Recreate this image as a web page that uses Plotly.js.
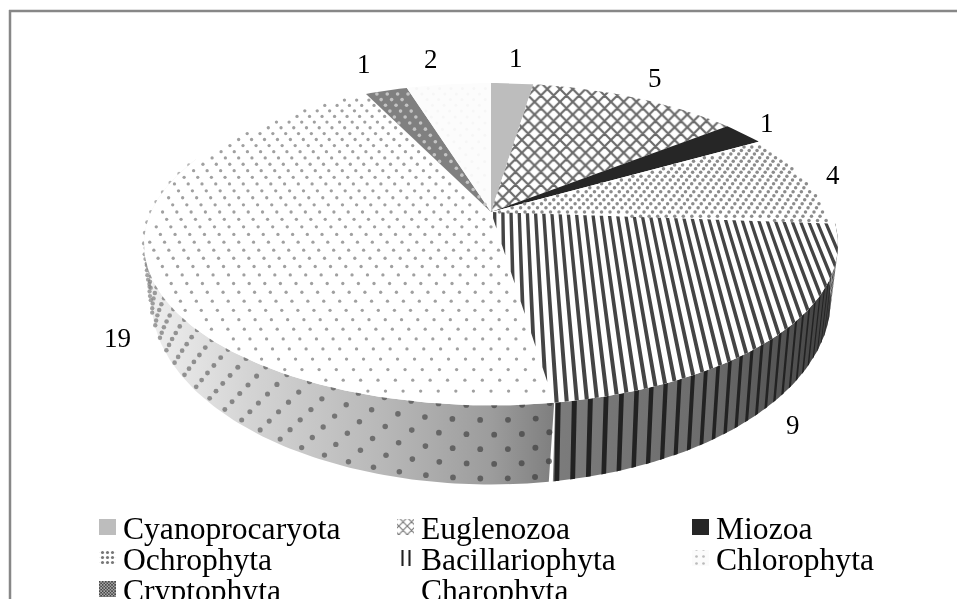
<!DOCTYPE html>
<html><head><meta charset="utf-8">
<script src="https://cdn.plot.ly/plotly-3.0.1.min.js"></script>
<style>html,body{margin:0;padding:0;background:#fff;overflow:hidden}#plot{width:957px;height:599px;filter:blur(0.5px)}</style>
</head><body><div id="plot"></div>
<script>
// DATA
const categories = ["Cyanoprocaryota","Euglenozoa","Miozoa","Ochrophyta","Bacillariophyta","Chlorophyta","Cryptophyta","Charophyta"];
const values = [1,5,1,4,9,19,1,2];
// LABEL AND LEGEND PLACEMENT (pixel-scaled axes)
const labelX = [516,655,767,833,793,117,364,431];
const labelY = [58,78,123,175,425,338,64,59];
const legendX = [122,420,715,122,420,715,122,420];
const legendY = [535,535,535,566,566,566,597,597];
// STYLE
const topColor = ["#bdbdbd","#ffffff","#262626","#ffffff","#ffffff","#ffffff","#808080","#fcfcfc"];

// 3D-pie perspective model
const cx=491, d=0.2;
const top3 = {R:340,H:154.7,cy:212}, bot3 = {R:333,H:178,cy:262};
function proj(X,Z,m){const w=1+d*Z;return [cx+m.R*X/w, m.cy-m.H*Z/w];}
const rad=a=>a*Math.PI/180;
const onRim=(a,m)=>proj(Math.sin(rad(a)),Math.cos(rad(a)),m);
const total=values.reduce((s,v)=>s+v,0);
let cum=0; const start=[],end=[];
values.forEach(v=>{start.push(cum/total*360);cum+=v;end.push(cum/total*360);});

function sector(i){
  const xs=[cx],ys=[top3.cy];
  for(let a=start[i];a<end[i];a+=1){const p=onRim(a,top3);xs.push(p[0]);ys.push(p[1]);}
  const p=onRim(end[i],top3);xs.push(p[0],cx);ys.push(p[1],top3.cy);
  return {x:xs,y:ys};
}
function wall(a1,a2){
  const xs=[],ys=[];
  for(let a=a1;a<=a2;a+=1){const p=onRim(a,top3);xs.push(p[0]);ys.push(p[1]);}
  for(let a=a2;a>=a1;a-=1){const p=onRim(a,bot3);xs.push(p[0]);ys.push(p[1]);}
  xs.push(xs[0]);ys.push(ys[0]);
  return {x:xs,y:ys};
}
function lattice(i,dX,dZ){
  const xs=[],ys=[];
  const N=Math.ceil(1/dZ),M=Math.ceil(1/dX);
  for(let j=-N;j<=N;j++)for(let k=-M;k<=M;k++){
    const X=(k+(((j%2)+2)%2)/2)*dX, Z=j*dZ;
    if(Math.hypot(X,Z)>0.985) continue;
    let a=Math.atan2(X,Z)*180/Math.PI; if(a<0)a+=360;
    if(a<start[i]+0.5||a>end[i]-0.5) continue;
    const p=proj(X,Z,top3);xs.push(p[0]);ys.push(p[1]);
  }
  return {x:xs,y:ys};
}
const bac=categories.indexOf("Bacillariophyta"), chl=categories.indexOf("Chlorophyta");
const och=categories.indexOf("Ochrophyta"), cry=categories.indexOf("Cryptophyta"), cha=categories.indexOf("Charophyta"), eug=categories.indexOf("Euglenozoa");

const traces=[];
function base(name,o){return Object.assign({type:"scatter",mode:"lines",name:name,showlegend:false,hoverinfo:"skip",line:{width:0}},o);}

// side walls
const wBac=wall(start[bac],end[bac]);
traces.push(base(categories[bac],{x:wBac.x,y:wBac.y,fill:"toself",
  fillgradient:{type:"horizontal",start:553,stop:838,colorscale:[[0,"#7c7c7c"],[0.55,"#6c6c6c"],[0.85,"#505050"],[1,"#3a3a3a"]]}}));
const wChl=wall(start[chl],292);
traces.push(base(categories[chl],{x:wChl.x,y:wChl.y,fill:"toself",
  fillgradient:{type:"horizontal",start:147,stop:553,colorscale:[[0,"#efefef"],[0.25,"#d4d4d4"],[0.6,"#b6b6b6"],[0.85,"#9c9c9c"],[1,"#7f7f7f"]]}}));
// wall stripes
(function(){
  const xs=[],ys=[];
  for(let a=end[bac]-0.2;a>start[bac];a-=2.25){
    const q=[onRim(a,top3),onRim(a-0.7,top3),onRim(a-0.7,bot3),onRim(a,bot3),onRim(a,top3)];
    q.forEach(p=>{xs.push(p[0]);ys.push(p[1]);});xs.push(null);ys.push(null);
  }
  traces.push(base(categories[bac],{x:xs,y:ys,fill:"toself",fillcolor:"#222222"}));
})();
// wall dots
(function(){
  const xs=[],ys=[],cs=[],ss=[];
  for(let j=0;j<=5;j++){
    const t=j*0.185;
    for(let a=start[chl]+0.6+(j%2?1.9:0);a<292;a+=3.77){
      const p=onRim(a,top3),q=onRim(a,bot3);
      xs.push(p[0]+(q[0]-p[0])*t);ys.push(p[1]+(q[1]-p[1])*t);
      const f=Math.min(1,(a-start[chl])/(292-start[chl]));
      const g=Math.round(60+95*f);cs.push(`rgb(${g},${g},${g})`);ss.push(6-2.5*f);
    }
  }
  traces.push(base(categories[chl],{x:xs,y:ys,mode:"markers",marker:{color:cs,size:ss,line:{width:0}}}));
})();
// top faces
values.forEach((v,i)=>{
  const s=sector(i);
  const t=base(categories[i],{x:s.x,y:s.y,fill:"toself",fillcolor:topColor[i]});
  if(i===eug) t.fillpattern={shape:"x",size:9,solidity:0.42,fgcolor:"#6a6a6a",bgcolor:"#ffffff"};
  traces.push(t);
});
// stripes of the top face
(function(){
  const c1=1/Math.tan(rad(start[bac])),c2=1/Math.tan(rad(end[bac]));
  const dk=0.024,w=0.0098,xs=[],ys=[];
  const zT=k=>k*c1, zB=k=>Math.max(-Math.sqrt(Math.max(0,1-k*k)),k*c2);
  for(let k=0.006;k+w<1;k+=dk){
    if(zB(k+w)>zT(k+w)) continue;
    const q=[proj(k,zT(k),top3),proj(k+w,zT(k+w),top3),proj(k+w,zB(k+w),top3),proj(k,zB(k),top3),proj(k,zT(k),top3)];
    q.forEach(p=>{xs.push(p[0]);ys.push(p[1]);});xs.push(null);ys.push(null);
  }
  traces.push(base(categories[bac],{x:xs,y:ys,fill:"toself",fillcolor:"#444444"}));
})();
// dotted textures of the top face
function dots(i,dX,dZ,color,size){
  const l=lattice(i,dX,dZ);
  traces.push(base(categories[i],{x:l.x,y:l.y,mode:"markers",marker:{color:color,size:size,line:{width:0}}}));
}
dots(chl,0.042,0.047,"#a0a0a0",3.3);
dots(och,0.025,0.027,"#8c8c8c",3.5);
dots(cry,0.036,0.05,"#c4c4c4",3.6);
dots(cha,0.04,0.05,"#f6f6f6",3);

// legend swatches
const swatchStyle=[
 {fillcolor:"#bdbdbd"},
 {fillpattern:{shape:"x",size:6,solidity:0.35,fgcolor:"#777777",bgcolor:"#ffffff"}},
 {fillcolor:"#262626"},
 {fillpattern:{shape:".",size:5,solidity:0.3,fgcolor:"#777777",bgcolor:"#ffffff"}},
 {fillpattern:{shape:"|",size:7,solidity:0.3,fgcolor:"#222222",bgcolor:"#ffffff"}},
 {fillpattern:{shape:".",size:7,solidity:0.12,fgcolor:"#bbbbbb",bgcolor:"#fbfbfb"}},
 {fillpattern:{shape:"x",size:2.2,solidity:0.5,fgcolor:"#333333",bgcolor:"#aaaaaa"}},
 {fillcolor:"#ffffff"}
];
const swW=17,swH=16,swGap=23;
categories.forEach((c,i)=>{
  const x0=legendX[i]-swGap, x1=x0+swW, y0=legendY[i]-swH, y1=y0+swH;
  traces.push(base(c,Object.assign({x:[x0,x1,x1,x0,x0],y:[y0,y0,y1,y1,y0],fill:"toself"},swatchStyle[i])));
});

const serif="'Liberation Serif','Times New Roman',serif";
const annotations=[];
values.forEach((v,i)=>annotations.push({x:labelX[i],y:labelY[i],xref:"x",yref:"y",text:String(v),showarrow:false,
  xanchor:"center",yanchor:"middle",font:{family:serif,size:27,color:"#000"}}));
categories.forEach((c,i)=>annotations.push({x:legendX[i],y:legendY[i],xref:"x",yref:"y",text:c,showarrow:false,
  xanchor:"left",yanchor:"bottom",yshift:-12,borderpad:0,font:{family:serif,size:31.6,color:"#000"}}));

const layout={width:957,height:599,margin:{l:0,r:0,t:0,b:0},paper_bgcolor:"#fff",plot_bgcolor:"#fff",showlegend:false,
  xaxis:{range:[0,957],visible:false,fixedrange:true},
  yaxis:{range:[599,0],visible:false,fixedrange:true},
  annotations:annotations,
  shapes:[
    {type:"line",xref:"x",yref:"y",x0:9,x1:957,y0:11,y1:11,line:{color:"#878787",width:2.5}},
    {type:"line",xref:"x",yref:"y",x0:10,x1:10,y0:10,y1:599,line:{color:"#878787",width:2.5}}
  ]};
Plotly.newPlot("plot",traces,layout,{staticPlot:true,displayModeBar:false});
</script></body></html>
